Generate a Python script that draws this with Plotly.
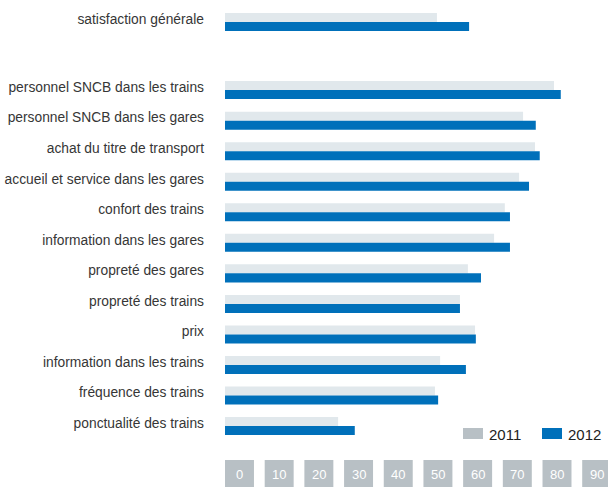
import plotly.graph_objects as go

categories = [
    "satisfaction générale",
    "personnel SNCB dans les trains",
    "personnel SNCB dans les gares",
    "achat du titre de transport",
    "accueil et service dans les gares",
    "confort des trains",
    "information dans les gares",
    "propreté des gares",
    "propreté des trains",
    "prix",
    "information dans les trains",
    "fréquence des trains",
    "ponctualité des trains",
]
values_2011 = [53.4, 82.9, 75.1, 78.1, 74.1, 70.5, 67.8, 61.2, 59.2, 63.0, 54.2, 52.9, 28.5]
values_2012 = [61.5, 84.6, 78.3, 79.3, 76.6, 71.8, 71.8, 64.5, 59.2, 63.2, 60.7, 53.7, 32.7]
x_ticks = [0, 10, 20, 30, 40, 50, 60, 70, 80, 90]
series_names = ["2011", "2012"]

# row positions (gap after the first category)
positions = [0] + [2.23 + i for i in range(len(categories) - 1)]

W, H = 608, 487
ML, MR, MT, MB = 225, 0, 0, 27
PW, PH = W - ML - MR, H - MT - MB

C2011 = "#e1e8ec"
C2012 = "#0070ba"
CBOX = "#b8c0c5"
FONT = "Liberation Sans, Arial, Helvetica, sans-serif"

fig = go.Figure()
fig.add_trace(go.Bar(y=positions, x=values_2011, orientation="h", name=series_names[0],
                     marker=dict(color=C2011, line=dict(width=0))))
fig.add_trace(go.Bar(y=positions, x=values_2012, orientation="h", name=series_names[1],
                     marker=dict(color=C2012, line=dict(width=0))))


def px_x(p):
    return (p - ML) / PW


def px_y(p):
    return (H - MB - p) / PH


shapes = []
annotations = []
box_w = 7.3
for v in x_ticks:
    shapes.append(dict(type="rect", xref="x", yref="paper", x0=v, x1=v + box_w,
                       y0=px_y(460), y1=px_y(489), fillcolor=CBOX, line=dict(width=0),
                       layer="above"))
    annotations.append(dict(x=v + box_w / 2, y=px_y(474), xref="x", yref="paper",
                            text=str(v), showarrow=False, xanchor="center", yanchor="middle",
                            font=dict(family=FONT, size=13, color="white")))

# custom legend
legend_items = [(series_names[0], CBOX, 463), (series_names[1], C2012, 542)]
for name, col, x0 in legend_items:
    shapes.append(dict(type="rect", xref="paper", yref="paper", x0=px_x(x0), x1=px_x(x0 + 20),
                       y0=px_y(439), y1=px_y(428), fillcolor=col, line=dict(width=0)))
    annotations.append(dict(x=px_x(x0 + 24), y=px_y(434), xref="paper", yref="paper",
                            text=name, showarrow=False, xanchor="left", yanchor="middle",
                            font=dict(family=FONT, size=15, color="#222222")))

fig.update_layout(
    width=W, height=H,
    margin=dict(l=ML, r=MR, t=MT, b=MB, pad=0),
    paper_bgcolor="white", plot_bgcolor="white",
    barmode="group", bargap=0.41, bargroupgap=0,
    showlegend=False,
    shapes=shapes, annotations=annotations,
    xaxis=dict(range=[0, 96.5], showgrid=False, zeroline=False, showticklabels=False,
               showline=False, fixedrange=True),
    yaxis=dict(range=[14.34, -0.72], tickmode="array",
               tickvals=[p - 0.1 for p in positions], ticktext=categories,
               showgrid=False, zeroline=False, showline=False, ticks="",
               ticklabelstandoff=20, fixedrange=True,
               tickfont=dict(family=FONT, size=13.8, color="#363636")),
)

fig.write_html("out.html", config={"displayModeBar": False},
               post_script="document.body.style.margin='0';document.body.style.padding='0';")
